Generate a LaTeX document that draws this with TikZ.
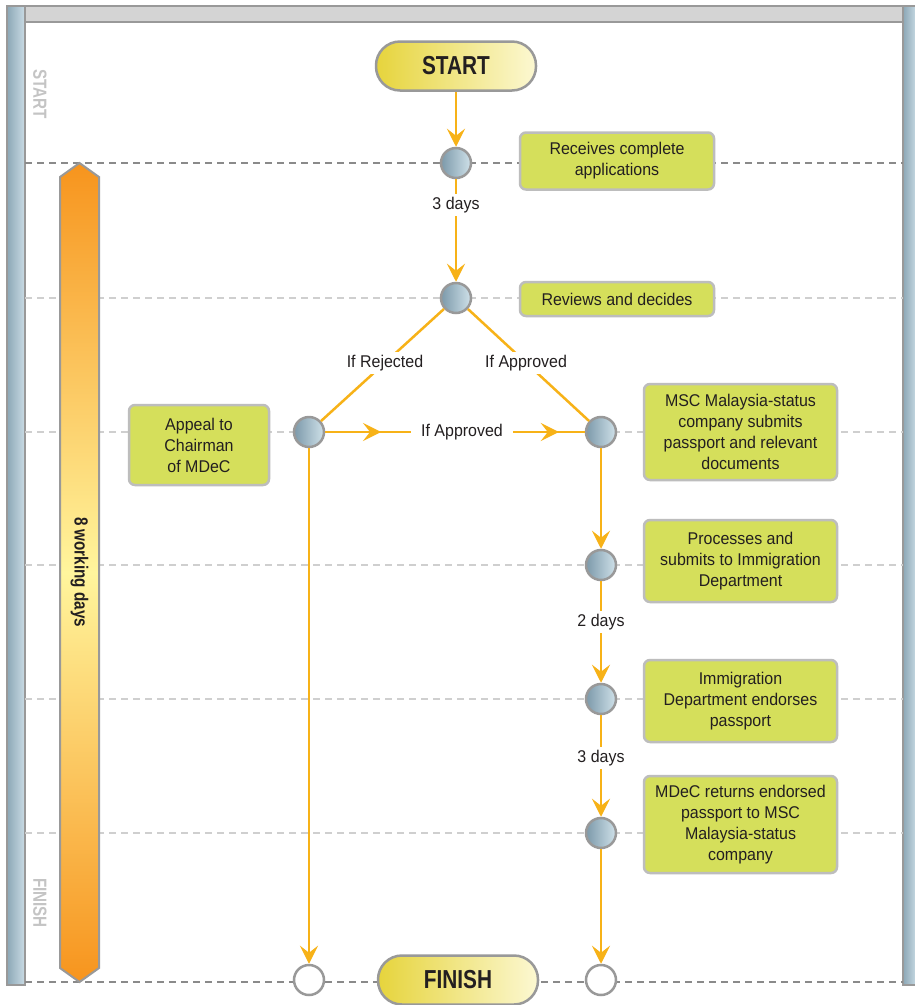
\documentclass[tikz,border=0pt]{standalone}
\usepackage{fontspec}
\setmainfont{Liberation Sans}[FakeStretch=0.94]
\newfontfamily\condfont{Liberation Sans}[FakeStretch=0.8]
\usetikzlibrary{arrows.meta,decorations.markings}
\definecolor{arrowc}{HTML}{F7B218}
\definecolor{txt}{HTML}{231F20}
\definecolor{boxfill}{HTML}{D5DF5B}
\definecolor{boxline}{HTML}{BDBDBD}
\definecolor{laneD}{HTML}{8A8A8A}
\definecolor{laneL}{HTML}{CFCFCF}
\definecolor{bluedark}{HTML}{8CA7B6}
\definecolor{bluelight}{HTML}{CADCE5}
\definecolor{circdark}{HTML}{7C99AA}
\definecolor{circlight}{HTML}{CFE1E9}
\definecolor{pillL}{HTML}{E6D43C}
\definecolor{pillR}{HTML}{FCF8D2}
\definecolor{orangec}{HTML}{F7941D}
\definecolor{yellowc}{HTML}{FFF59D}
\definecolor{grayedge}{HTML}{999999}
\definecolor{sidetext}{HTML}{C4C4C4}
\tikzset{
  tip/.tip={Stealth[length=18pt,width=18pt,inset=7pt]},
  lanedark/.style={draw=laneD, line width=2.5pt, dash pattern=on 7pt off 5pt},
  lanelight/.style={draw=laneL, line width=2pt, dash pattern=on 7pt off 5pt},
  stepnode/.style={circle, minimum size=30pt, inner sep=0pt, draw=grayedge, line width=2.5pt, left color=circdark, right color=circlight},
  endnode/.style={circle, minimum size=30pt, inner sep=0pt, draw=grayedge, line width=2.5pt, fill=white},
  pill/.style={draw=grayedge, line width=2.5pt, rounded corners=24pt, minimum width=160pt, minimum height=49pt, left color=pillL, right color=pillR, font=\condfont\bfseries\fontsize{26}{28}\selectfont, text=txt},
  taskbox/.style={draw=boxline, line width=2.5pt, rounded corners=6pt, fill=boxfill, align=center, font=\fontsize{17}{21}\selectfont, text=txt, inner sep=0pt},
  flow/.style={draw=arrowc, line width=2.5pt, -tip},
  flowplain/.style={draw=arrowc, line width=2.5pt},
  lbl/.style={fill=white, inner sep=3pt, font=\fontsize{17}{21}\selectfont, text=txt},
  midarrows/.style={postaction={decorate}, decoration={markings,
     mark=at position 0.215 with {\arrow{tip}},
     mark=at position 0.9 with {\arrow{tip}}}},
  sidelabel/.style={rotate=-90, text=sidetext, font=\condfont\bfseries\fontsize{19}{21}\selectfont}
}
\begin{document}
\begin{tikzpicture}[x=1pt,y=-1pt]
\useasboundingbox (0,0) rectangle (915,1005);
\fill[white] (0,0) rectangle (915,1005);
% frame
\fill[white] (25,23) rectangle (903,983);
\draw[draw=grayedge, line width=2.5pt, fill={rgb,255:red,212;green,212;blue,212}] (25,6) rectangle (903,22);
\draw[draw=grayedge, line width=2pt, left color=bluedark, right color=bluelight] (7,6) rectangle (25,985);
\draw[draw=grayedge, line width=2pt, left color=bluedark, right color=bluelight] (903,6) rectangle (917,985);
% lanes
\draw[lanedark] (25,163) -- (903,163);
\draw[lanelight] (25,298) -- (903,298);
\draw[lanelight] (25,432) -- (903,432);
\draw[lanelight] (25,565) -- (903,565);
\draw[lanelight] (25,699) -- (903,699);
\draw[lanelight] (25,833) -- (903,833);
\draw[lanedark] (25,982) -- (903,982);
% side labels
\node[sidelabel] (sstart) at (40,94) {START};
\node[sidelabel] (sfinish) at (40,903) {FINISH};
% time bar
\draw[draw=grayedge, line width=2pt, top color=orangec, bottom color=orangec, middle color=yellowc]
  (60,177) -- (79.5,163) -- (99,177) -- (99,968) -- (79.5,982) -- (60,968) -- cycle;
\node[rotate=-90, text=txt, font=\condfont\bfseries\fontsize{19}{21}\selectfont] (bar) at (79.5,572) {8 working days};
% terminals
\node[pill] (start) at (456,66) {START};
\node[pill] (finish) at (458,980) {FINISH};
% steps
\node[stepnode] (c1) at (456,163) {};
\node[stepnode] (c2) at (456,298) {};
\node[stepnode] (c3) at (309,432) {};
\node[stepnode] (c4) at (601,432) {};
\node[stepnode] (c5) at (601,565) {};
\node[stepnode] (c6) at (601,699) {};
\node[stepnode] (c7) at (601,833) {};
\node[endnode] (e1) at (309,980) {};
\node[endnode] (e2) at (601,980) {};
% task boxes
\node[taskbox, minimum width=194pt, minimum height=57pt] (b1) at (617,161) {Receives complete\\applications};
\node[taskbox, minimum width=194pt, minimum height=34pt] (b2) at (617,299) {Reviews and decides};
\node[taskbox, minimum width=140pt, minimum height=80pt] (b3) at (199,445) {Appeal to\\Chairman\\of MDeC};
\node[taskbox, minimum width=193pt, minimum height=96pt] (b4) at (740.5,432) {MSC Malaysia-status\\company submits\\passport and relevant\\documents};
\node[taskbox, minimum width=193pt, minimum height=82pt] (b5) at (740.5,561) {Processes and\\submits to Immigration\\Department};
\node[taskbox, minimum width=193pt, minimum height=82pt] (b6) at (740.5,701) {Immigration\\Department endorses\\passport};
\node[taskbox, minimum width=193pt, minimum height=97pt] (b7) at (740.5,824.5) {MDeC returns endorsed\\passport to MSC\\Malaysia-status\\company};
% flows
\draw[flow] (start) -- (c1);
\draw[flow] (c1) -- node[lbl, pos=0.25] (l1) {3 days} (c2);
\draw[flowplain] (c2) -- node[lbl, pos=0.48] (l2) {If Rejected} (c3);
\draw[flowplain] (c2) -- node[lbl, pos=0.48] (l3) {If Approved} (c4);
\draw[flowplain, midarrows] (c3) -- node[lbl, pos=0.527, inner xsep=10pt] (l4) {If Approved} (c4);
\draw[flow] (c3) -- (e1);
\draw[flow] (c4) -- (c5);
\draw[flow] (c5) -- node[lbl, pos=0.4] (l5) {2 days} (c6);
\draw[flow] (c6) -- node[lbl, pos=0.42] (l6) {3 days} (c7);
\draw[flow] (c7) -- (e2);
\end{tikzpicture}
\end{document}
